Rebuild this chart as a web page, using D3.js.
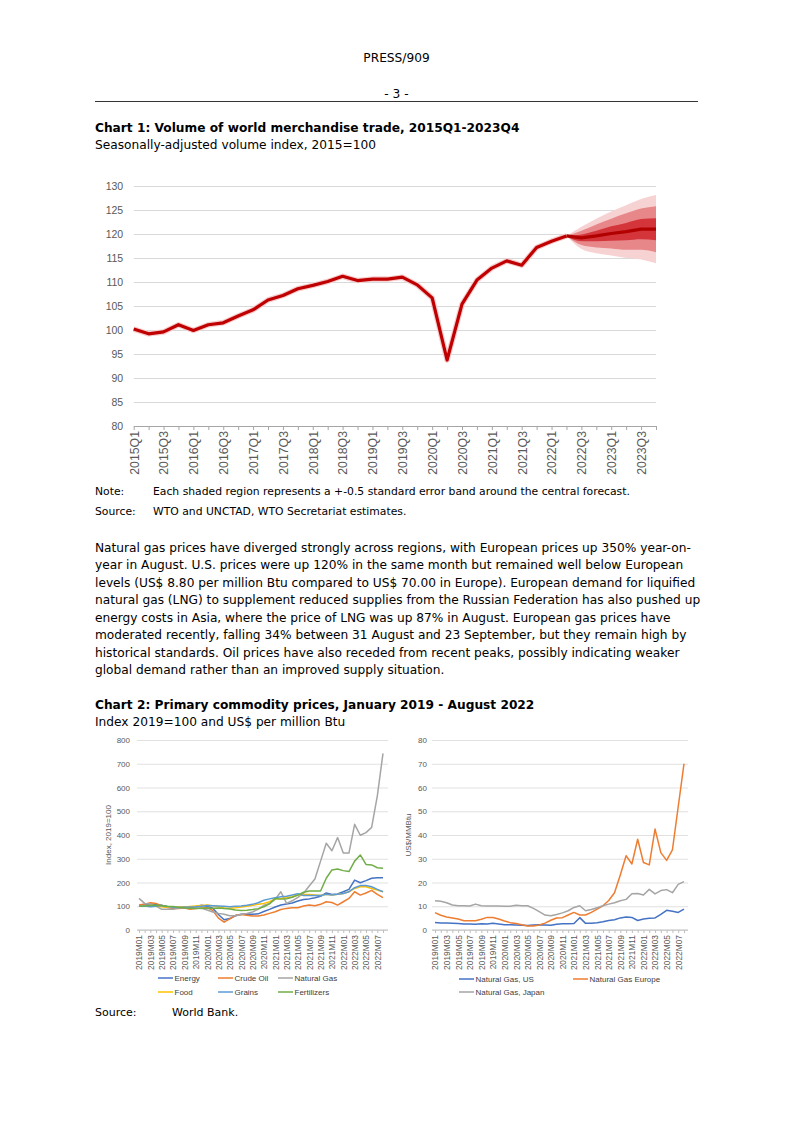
<!DOCTYPE html>
<html><head><meta charset="utf-8">
<script src="https://cdn.jsdelivr.net/npm/d3@7"></script>
<style>body{margin:0;background:#fff}svg{display:block}</style>
</head><body><svg id="c" width="793" height="1122"></svg>
<script>
// ---------- Chart 1 data ----------
const quarters = ["2015Q1","2015Q2","2015Q3","2015Q4","2016Q1","2016Q2","2016Q3","2016Q4",
  "2017Q1","2017Q2","2017Q3","2017Q4","2018Q1","2018Q2","2018Q3","2018Q4",
  "2019Q1","2019Q2","2019Q3","2019Q4","2020Q1","2020Q2","2020Q3","2020Q4",
  "2021Q1","2021Q2","2021Q3","2021Q4","2022Q1","2022Q2","2022Q3","2022Q4",
  "2023Q1","2023Q2","2023Q3","2023Q4"];
const tradeVolume = [100.2,99.2,99.6,101.1,99.9,101.1,101.5,102.9,104.2,106.25,107.2,108.6,
  109.3,110.1,111.2,110.3,110.6,110.6,111.0,109.4,106.7,93.75,105.4,110.4,
  112.9,114.4,113.5,117.2,118.5,119.6,119.2,119.6,120.1,120.5,121.0,121.0];
const forecastStart = "2022Q2";
const bandInner = [0,0.7,1.1,1.5,1.8,2.1,2.3];
const bandMid   = [0,1.5,2.4,3.1,3.8,4.3,4.8];
const bandOuter = [0,2.3,3.6,4.6,5.5,6.3,7.1];
const chart1Ticks = [80,85,90,95,100,105,110,115,120,125,130];

// ---------- Chart 2 data ----------
const months = ["2019M01","2019M02","2019M03","2019M04","2019M05","2019M06","2019M07","2019M08","2019M09","2019M10","2019M11","2019M12",
  "2020M01","2020M02","2020M03","2020M04","2020M05","2020M06","2020M07","2020M08","2020M09","2020M10","2020M11","2020M12",
  "2021M01","2021M02","2021M03","2021M04","2021M05","2021M06","2021M07","2021M08","2021M09","2021M10","2021M11","2021M12",
  "2022M01","2022M02","2022M03","2022M04","2022M05","2022M06","2022M07","2022M08"];
const energy = [101,105,108,107,104,98,95,94,98,95,98,104, 100,92,65,43,48,60,66,67,66,68,78,87,
  97,105,109,114,122,128,131,136,142,156,150,152, 161,171,210,199,208,218,220,220];
const crudeOil = [105,109,115,112,101,95,90,91,93,87,90,93, 94,82,50,33,47,62,65,62,59,59,63,70,
  77,86,91,94,94,101,105,102,108,119,116,105, 119,133,161,147,156,167,150,136];
const naturalGas = [133,112,109,101,87,87,87,93,95,93,93,91, 84,76,70,66,60,60,65,70,76,87,104,112,
  129,161,112,123,137,155,185,215,290,365,334,389, 324,324,445,399,410,432,565,744];
const food = [100,102,103,100,98,96,96,97,97,99,101,103, 105,102,98,93,92,94,97,100,104,108,112,119,
  131,133,136,140,147,150,150,147,145,150,147,150, 154,161,175,182,182,175,168,161];
const grains = [100,101,98,100,103,99,96,95,96,97,98,100, 103,102,101,100,98,100,101,104,108,115,125,131,
  136,140,142,147,153,145,145,145,145,150,147,150, 154,161,178,187,187,182,171,161];
const fertilizers = [100,101,103,104,102,100,99,96,93,92,91,92, 92,92,93,91,88,84,82,83,86,90,98,110,
  133,130,132,138,147,159,164,164,164,218,253,257, 250,246,290,316,276,274,262,260];
const usGas = [3.2,2.9,2.9,2.8,2.7,2.5,2.5,2.4,2.6,2.5,2.8,2.5, 2.2,2.2,2.1,2.0,1.9,2.1,2.2,2.1,2.0,2.4,2.6,2.6,
  2.7,5.2,2.8,2.8,3.1,3.5,4.0,4.3,5.1,5.5,5.3,4.0, 4.6,4.9,5.1,6.6,8.3,7.9,7.4,8.8];
const europeGas = [7.3,6.2,5.5,5.05,4.6,3.9,3.9,3.9,4.5,5.3,5.3,4.6, 3.8,3.1,2.7,2.2,1.7,1.7,2.1,2.9,4.1,5.05,5.2,6.3,
  7.4,6.3,6.3,7.4,8.8,10.2,12.4,15.7,23.2,31.3,27.8,38.2, 28.4,27.4,42.5,32.6,29.3,33.7,51.9,70.0];
const japanGas = [12.35,12.1,11.5,10.5,10.2,10.2,10.1,10.9,10.2,10.1,10.1,10.1, 10.0,10.0,10.4,10.2,10.2,9.1,7.7,6.3,6.0,6.5,7.2,8.1,
  9.5,10.2,8.1,8.6,9.4,10.2,10.9,11.5,12.35,12.9,15.3,15.4, 14.7,17.1,15.2,16.6,17.0,15.7,19.2,20.4];
const leftTicks = [0,100,200,300,400,500,600,700,800];
const rightTicks = [0,10,20,30,40,50,60,70,80];
const leftSeries = [
  {name:"Energy", values:energy, color:"#4472C4"},
  {name:"Crude Oil", values:crudeOil, color:"#ED7D31"},
  {name:"Natural Gas", values:naturalGas, color:"#A5A5A5"},
  {name:"Food", values:food, color:"#FFC000"},
  {name:"Grains", values:grains, color:"#5B9BD5"},
  {name:"Fertilizers", values:fertilizers, color:"#70AD47"}];
const rightSeries = [
  {name:"Natural Gas, US", values:usGas, color:"#4472C4"},
  {name:"Natural Gas Europe", values:europeGas, color:"#ED7D31"},
  {name:"Natural Gas, Japan", values:japanGas, color:"#A5A5A5"}];

const paragraph = [
 "Natural gas prices have diverged strongly across regions, with European prices up 350% year-on-",
 "year in August. U.S. prices were up 120% in the same month but remained well below European",
 "levels (US$ 8.80 per million Btu compared to US$ 70.00 in Europe). European demand for liquified",
 "natural gas (LNG) to supplement reduced supplies from the Russian Federation has also pushed up",
 "energy costs in Asia, where the price of LNG was up 87% in August. European gas prices have",
 "moderated recently, falling 34% between 31 August and 23 September, but they remain high by",
 "historical standards. Oil prices have also receded from recent peaks, possibly indicating weaker",
 "global demand rather than an improved supply situation."];

// ---------- drawing ----------
const svg = d3.select('#c');
svg.append('rect').attr('width',793).attr('height',1122).attr('fill','#fff');
const BODY = "'DejaVu Sans', Verdana, sans-serif";
const CH = "'Liberation Sans', Arial, sans-serif";
const FS = 12.2;
function txt(x,y,s,o={}) {
  return svg.append('text').attr('x',x).attr('y',y).text(s)
    .attr('font-family',o.family||BODY).attr('font-size',o.size||FS)
    .attr('font-weight',o.weight||'normal').attr('text-anchor',o.anchor||'start')
    .attr('fill',o.fill||'#000');
}
txt(396.5,62,'PRESS/909',{anchor:'middle'});
txt(396.5,98,'- 3 -',{anchor:'middle'});
svg.append('line').attr('x1',95).attr('x2',698).attr('y1',101.5).attr('y2',101.5).attr('stroke','#000').attr('stroke-width',0.8);
txt(95,132,'Chart 1: Volume of world merchandise trade, 2015Q1-2023Q4',{weight:'bold'});
txt(95,149,'Seasonally-adjusted volume index, 2015=100');

// chart 1
const x1 = d3.scalePoint().domain(quarters).range([133.7,656]);
const y1 = d3.scaleLinear().domain([80,130]).range([426,186]);
const ya = svg.append('g').attr('transform','translate(133.7,0)')
  .call(d3.axisLeft(y1).tickValues(chart1Ticks).tickSize(-(656-133.7)).tickPadding(10.5));
ya.select('.domain').remove();
ya.selectAll('line').attr('stroke','#d9d9d9');
ya.selectAll('text').attr('fill','#595959').attr('font-family',CH).attr('font-size',10.5);
const xa = svg.append('g').attr('transform','translate(0,426)')
  .call(d3.axisBottom(x1).tickSize(4).tickSizeOuter(0).tickFormat((d,i)=> i%2===0?d:''));
xa.select('.domain').attr('stroke','#a6a6a6');
xa.selectAll('line').attr('stroke','#a6a6a6');
xa.selectAll('text').attr('fill','#595959').attr('font-family',CH).attr('font-size',12.3)
  .attr('transform','rotate(-90)').attr('text-anchor','end').attr('x',-5).attr('y',0).attr('dy','0.35em');

const fi = quarters.indexOf(forecastStart);
const fq = quarters.slice(fi);
const fv = tradeVolume.slice(fi);
function band(b){
  return d3.area().curve(d3.curveMonotoneX)
    .x((d,i)=>x1(fq[i])).y0((d,i)=>y1(fv[i]-b[i])).y1((d,i)=>y1(fv[i]+b[i]))(fq);
}
svg.append('path').attr('d',band(bandOuter)).attr('fill','#f7d2d3');
svg.append('path').attr('d',band(bandMid)).attr('fill','#e7878a');
svg.append('path').attr('d',band(bandInner)).attr('fill','#d4353b');
const l1 = d3.line().x((d,i)=>x1(quarters[i])).y(d=>y1(d));
const hist = tradeVolume.slice(0,fi+1);
svg.append('path').attr('d',l1(hist)).attr('fill','none').attr('stroke','#f5cccc').attr('stroke-width',5.5).attr('stroke-linejoin','round');
svg.append('path').attr('d',l1(hist)).attr('fill','none').attr('stroke','#c00000').attr('stroke-width',3.2).attr('stroke-linejoin','round');
const lf = d3.line().x((d,i)=>x1(fq[i])).y(d=>y1(d));
svg.append('path').attr('d',lf(fv)).attr('fill','none').attr('stroke','#b00000').attr('stroke-width',3.2).attr('stroke-linejoin','round');

txt(95,495,'Note:',{size:10.8});
txt(153,495,'Each shaded region represents a +-0.5 standard error band around the central forecast.',{size:10.8});
txt(95,515,'Source:',{size:10.8});
txt(153,515,'WTO and UNCTAD, WTO Secretariat estimates.',{size:10.8});

paragraph.forEach((s,i)=>txt(95,552+i*17.43,s));

txt(95,709,'Chart 2: Primary commodity prices, January 2019 - August 2022',{weight:'bold'});
txt(95,726,'Index 2019=100 and US$ per million Btu');

function smallChart(cfg){
  const x = d3.scalePoint().domain(months).range(cfg.px);
  const y = d3.scaleLinear().domain([0,cfg.max]).range([930,740]);
  const g = svg.append('g');
  const yaG = g.append('g').attr('transform',`translate(${cfg.gx[0]},0)`)
    .call(d3.axisLeft(y).tickValues(cfg.ticks).tickSize(-(cfg.gx[1]-cfg.gx[0])).tickPadding(cfg.pad));
  yaG.select('.domain').remove();
  yaG.selectAll('line').attr('stroke','#d9d9d9').attr('stroke-width',0.8);
  yaG.selectAll('text').attr('fill','#595959').attr('font-family',CH).attr('font-size',8);
  const xaG = g.append('g').attr('transform','translate(0,930)')
    .call(d3.axisBottom(x).tickSize(3).tickSizeOuter(0).tickFormat((d,i)=> i%2===0?d:''));
  xaG.select('.domain').remove();
  g.append('line').attr('x1',cfg.gx[0]).attr('x2',cfg.gx[1]).attr('y1',930).attr('y2',930).attr('stroke','#bfbfbf');
  xaG.selectAll('line').attr('stroke','#bfbfbf');
  xaG.selectAll('text').attr('fill','#595959').attr('font-family',CH).attr('font-size',8.4)
    .attr('transform','rotate(-90)').attr('text-anchor','end').attr('x',-5).attr('y',0).attr('dy','0.35em');
  const line = d3.line().x((d,i)=>x(months[i])).y(d=>y(d));
  cfg.series.forEach(s=>{
    g.append('path').attr('d',line(s.values)).attr('fill','none').attr('stroke',s.color)
      .attr('stroke-width',1.5).attr('stroke-linejoin','round');
  });
  g.append('text').attr('transform',`translate(${cfg.lab[0]},${cfg.lab[1]}) rotate(-90)`)
    .attr('text-anchor','middle').attr('font-family',CH).attr('font-size',8).attr('fill','#595959').text(cfg.ylabel);
  cfg.legend.forEach((p,i)=>{
    const s = cfg.series[i];
    g.append('line').attr('x1',p[0]).attr('x2',p[0]+15).attr('y1',p[1]).attr('y2',p[1]).attr('stroke',s.color).attr('stroke-width',1.5);
    g.append('text').attr('x',p[0]+16.5).attr('y',p[1]+2.9).attr('font-family',CH).attr('font-size',8).attr('fill','#404040').text(s.name);
  });
}
smallChart({px:[139,383], gx:[137,388], max:800, ticks:leftTicks, pad:7, series:leftSeries,
  ylabel:'Index, 2019=100', lab:[111,835],
  legend:[[158,978],[218,978],[278,978],[158,992],[218,992],[278,992]]});
smallChart({px:[435,684], gx:[432,688], max:80, ticks:rightTicks, pad:5, series:rightSeries,
  ylabel:'US$/MMBtu', lab:[411,835],
  legend:[[459,979],[573,979],[459,992]]});

txt(95,1016,'Source:',{size:11});
txt(172,1016,'World Bank.',{size:11});
</script></body></html>
